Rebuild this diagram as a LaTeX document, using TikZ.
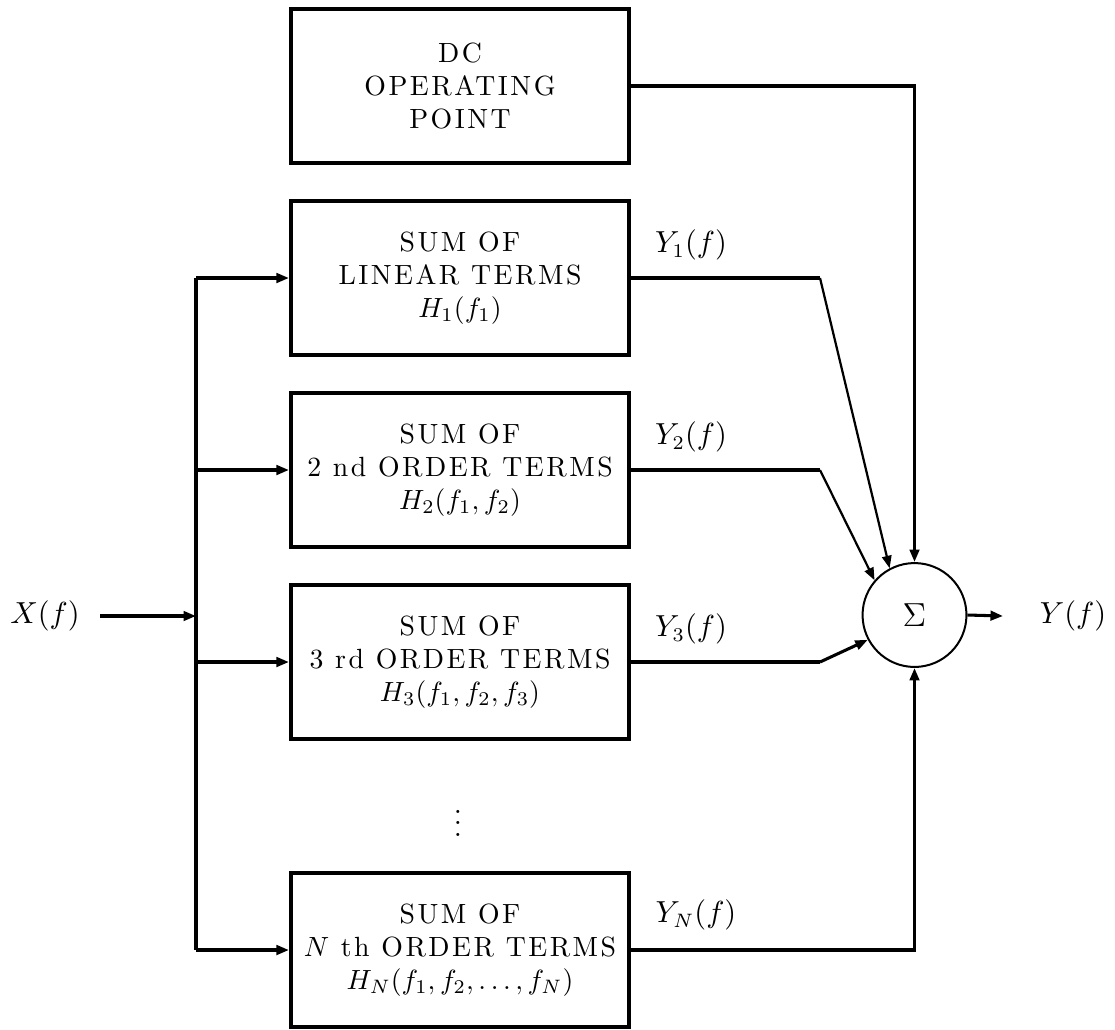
\documentclass[tikz,border=0pt]{standalone}
\usepackage{fontspec}
\setmainfont{Latin Modern Roman}[LetterSpace=9]
\usetikzlibrary{arrows.meta}

\tikzset{
  block/.style={draw, line width=1.44pt, minimum width=121.7pt, minimum height=55.4pt,
    inner sep=0pt, align=center, font=\fontsize{10}{11.9}\selectfont},
  adder/.style={draw, circle, line width=0.72pt, minimum size=37.4pt, inner sep=0pt},
  wire/.style={line width=1.1pt},
  thinwire/.style={line width=0.8pt},
  tip/.style={-{Triangle[length=4.5pt,width=3.4pt]}},
  lbl/.style={inner sep=0pt, font=\fontsize{10.5}{12}\selectfont},
}

\begin{document}
\begin{tikzpicture}[x=0.36pt, y=-0.36pt]
  % page frame
  \fill[white] (0,0) rectangle (1115,1029);
  \useasboundingbox (0,0) rectangle (1115,1029);

  % blocks
  \node[block] (dc)  at (460,86)  {DC\\OPERATING\\POINT};
  \node[block] (lin) at (460,278) {SUM OF\\LINEAR TERMS\\$H_1(f_1)$};
  \node[block] (sec) at (460,470) {SUM OF\\2 nd ORDER TERMS\\$H_2(f_1,f_2)$};
  \node[block] (thr) at (460,662) {SUM OF\\3 rd ORDER TERMS\\$H_3(f_1,f_2,f_3)$};
  \node[block] (nth) at (460,950) {SUM OF\\$N$ th ORDER TERMS\\$H_N(f_1,f_2,\ldots,f_N)$};
  \node[lbl] (dots) at (458,815) {$\vdots$};

  % summing junction
  \node[adder] (sum) at (914.5,615) {\large$\Sigma$};

  % input / output labels
  \node[lbl] (xl) at (45,616) {$X(f)$};
  \node[lbl] (yl) at (1073,616) {$Y(f)$};
  \node[lbl] (y1) at (691,245) {$Y_1(f)$};
  \node[lbl] (y2) at (691,437) {$Y_2(f)$};
  \node[lbl] (y3) at (691,629) {$Y_3(f)$};
  \node[lbl] (yn) at (696,915) {$Y_N(f)$};

  % distribution bus
  \coordinate (bt)  at (196,278);
  \coordinate (bb)  at (196,950);
  \coordinate (xin) at (100,616);
  \coordinate (yout) at (1003,616);
  \draw[wire] (bt) -- (bb);
  \draw[wire,tip] (xin) -- (xin -| bt);
  \draw[wire,tip] (bt) -- (lin.west);
  \draw[wire,tip] (sec.west -| bt) -- (sec.west);
  \draw[wire,tip] (thr.west -| bt) -- (thr.west);
  \draw[wire,tip] (bb) -- (nth.west);

  % outputs into the adder
  \coordinate (k1) at (820,278);
  \coordinate (k2) at (820,470);
  \coordinate (k3) at (820,662);
  \draw[wire,tip] (dc.east) -| (sum.north);
  \draw[wire] (lin.east) -- (k1);
  \draw[thinwire,tip] (k1) -- (sum.118);
  \draw[wire] (sec.east) -- (k2);
  \draw[thinwire,tip] (k2) -- (sum.139);
  \draw[wire] (thr.east) -- (k3);
  \draw[wire,tip] (k3) -- (sum.208);
  \draw[wire,tip] (nth.east) -| (sum.south);
  \draw[wire,tip] (sum.east) -- (yout);
\end{tikzpicture}
\end{document}
